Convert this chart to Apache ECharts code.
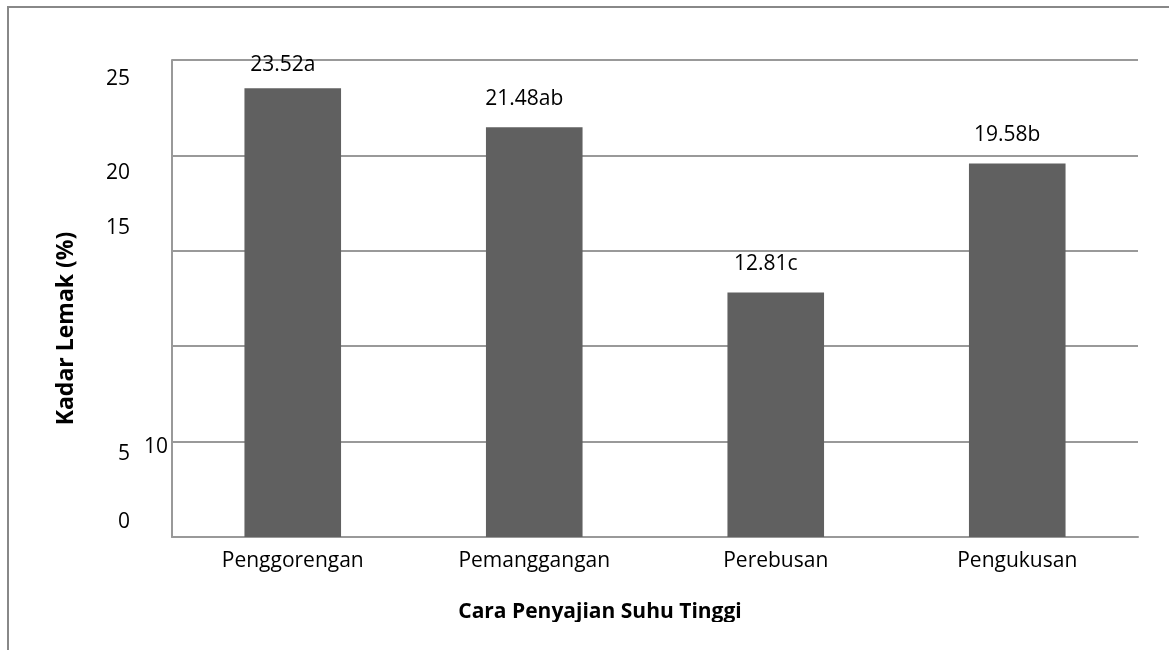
<!DOCTYPE html>
<html>
<head>
<meta charset="utf-8">
<script src="https://cdn.jsdelivr.net/npm/echarts@6/dist/echarts.min.js"></script>
<style>
html,body{margin:0;padding:0;background:#fff;}
#chart{width:1169px;height:650px;}
</style>
</head>
<body>
<div id="chart"></div>
<script>
// ---- data ----
const categories = ['Penggorengan', 'Pemanggangan', 'Perebusan', 'Pengukusan'];
const values = [23.52, 21.48, 12.81, 19.58];
const letters = ['a', 'ab', 'c', 'b'];
const tickValues = [25, 20, 15, 10, 5, 0];
const tickLabels = ['25', '20', '15', '10', '5', '0'];
const yTitle = 'Kadar Lemak (%)';
const xTitle = 'Cara Penyajian Suhu Tinggi';

// ---- styles (label placement quirks of the original) ----
const tickStyle = {
  '25': {dx: 0, dy: 19},
  '20': {dx: 0, dy: 18},
  '15': {dx: 0, dy: -23},
  '10': {dx: 38, dy: 101},
  '5':  {dx: 0, dy: 12},
  '0':  {dx: 0, dy: -15}
};
const FONT = '"Open Sans", "Noto Sans", sans-serif';
const FS = 21;

const chart = echarts.init(document.getElementById('chart'));
const option = {
  animation: false,
  backgroundColor: '#fff',
  grid: {left: 172, right: 31, top: 60, bottom: 113},
  xAxis: {
    type: 'category',
    data: categories,
    axisLine: {lineStyle: {color: '#999', width: 2}},
    axisTick: {show: false},
    axisLabel: {color: '#000', fontSize: FS, fontFamily: FONT, margin: 14},
    name: xTitle,
    nameLocation: 'middle',
    nameGap: 65,
    nameTextStyle: {color: '#000', fontSize: 21, fontWeight: 'bold', fontFamily: FONT,
                    padding: [0, 110, 0, 0]}
  },
  yAxis: {
    type: 'value',
    min: 0, max: 25, interval: 5,
    axisLine: {show: true, lineStyle: {color: '#999', width: 2}},
    axisTick: {show: false},
    axisLabel: {show: false},
    splitLine: {lineStyle: {color: '#999', width: 2}},
    name: yTitle,
    nameLocation: 'middle',
    nameGap: 94,
    nameRotate: 90,
    nameTextStyle: {color: '#000', fontSize: 23, fontWeight: 'bold', fontFamily: FONT,
                    padding: [0, 60, 0, 0]}
  },
  series: [{
    type: 'bar',
    barWidth: '40%',
    itemStyle: {color: '#606060'},
    data: values.map((v, i) => ({
      value: v,
      label: i === 0 ? {distance: 13} : {}
    })),
    label: {
      show: true,
      position: 'top',
      distance: 18,
      offset: [-10, 0],
      color: '#000',
      fontSize: FS,
      fontFamily: FONT,
      formatter: p => values[p.dataIndex].toFixed(2) + letters[p.dataIndex]
    }
  }]
};
chart.setOption(option);

// tick labels placed through the axis scale, with the original's offsets
const gfx = [];
tickValues.forEach((v, i) => {
  const y = chart.convertToPixel({yAxisIndex: 0}, v);
  const st = tickStyle[tickLabels[i]];
  gfx.push({
    type: 'text',
    x: 130 + st.dx,
    y: y + st.dy,
    style: {
      text: tickLabels[i],
      fill: '#000',
      font: FS + 'px ' + FONT,
      align: 'right',
      verticalAlign: 'middle'
    }
  });
});
// outer chart border
gfx.push({
  type: 'polyline',
  shape: {points: [[8, 650], [8, 7], [1169, 7]]},
  style: {stroke: '#888', lineWidth: 2, fill: null}
});
// original image clips the bottom of the axis title
gfx.push({
  type: 'rect',
  z: 100,
  shape: {x: 10, y: 622, width: 1159, height: 28},
  style: {fill: '#fff'}
});
chart.setOption({graphic: gfx});
</script>
</body>
</html>
